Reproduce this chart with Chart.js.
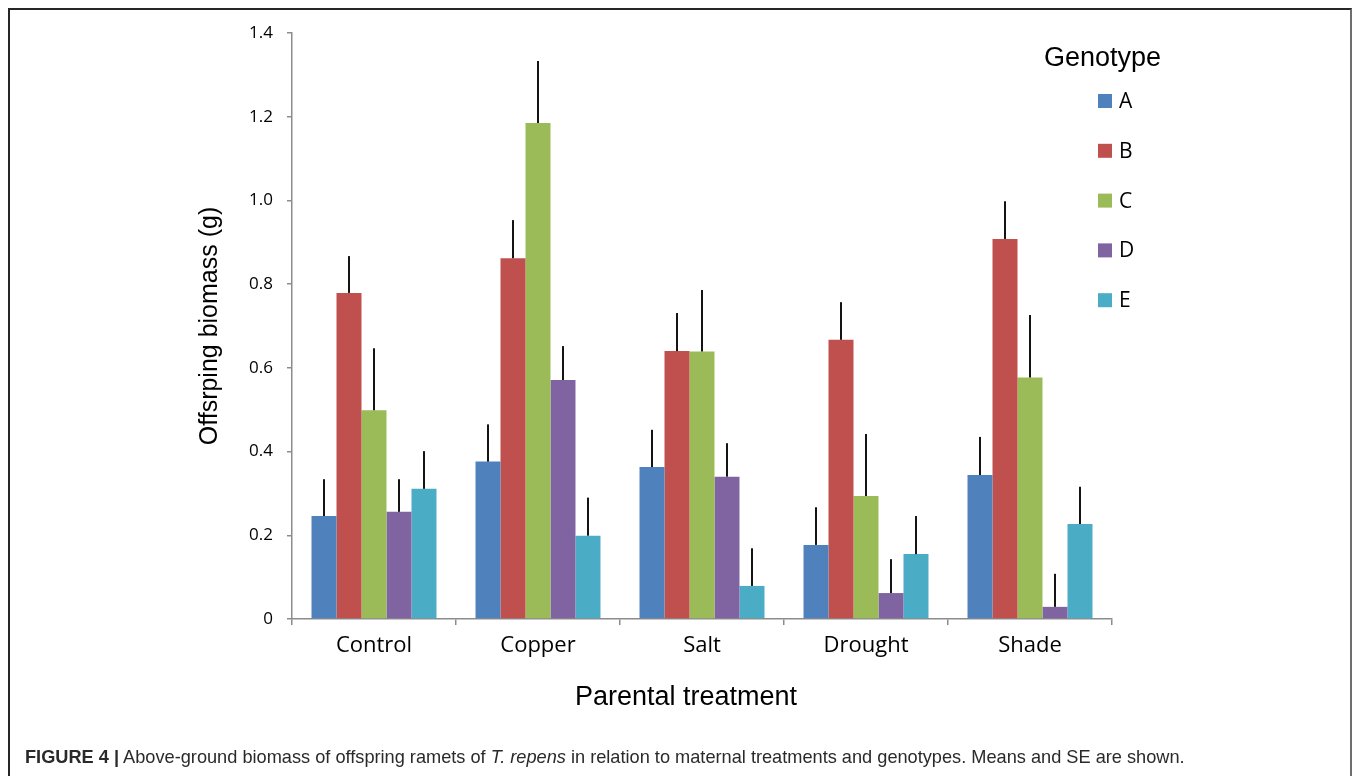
<!DOCTYPE html>
<html>
<head>
<meta charset="utf-8">
<script src="https://cdn.jsdelivr.net/npm/chart.js@4.4.0/dist/chart.umd.min.js"></script>
<style>
  html, body { margin: 0; padding: 0; background: #fff; }
  #wrap { position: relative; width: 1360px; height: 776px; overflow: hidden; }
  #frame { position: absolute; left: 8px; top: 8px; width: 1344px; height: 800px;
           border: 2px solid #262626; border-right-color: #6e6e6e; border-bottom: none; box-sizing: border-box; }
  #chart { position: absolute; left: 0; top: 0; }
  #caption { position: absolute; left: 25px; top: 747px; font-family: "Liberation Sans", Arial, sans-serif;
             font-size: 18.2px; color: #2a2a2a; white-space: nowrap; }
  #caption b { font-weight: bold; }
</style>
</head>
<body>
<div id="wrap">
  <div id="frame"></div>
  <canvas id="chart" width="1360" height="776"></canvas>
  <div id="caption"><b>FIGURE 4 |</b> Above-ground biomass of offspring ramets of <i>T. repens</i> in relation to maternal treatments and genotypes. Means and SE are shown.</div>
</div>
<script>
// Parental treatments (x categories) and genotypes (series)
const treatments = ['Control', 'Copper', 'Salt', 'Drought', 'Shade'];
const genotypes = ['A', 'B', 'C', 'D', 'E'];
const genotypeColors = ['#4F81BD', '#C0504D', '#9BBB59', '#8064A2', '#4BACC6'];

// Mean offspring biomass (g) per genotype, in treatment order
const meanA = [0.246, 0.376, 0.363, 0.177, 0.344];
const meanB = [0.779, 0.862, 0.640, 0.667, 0.908];
const meanC = [0.499, 1.185, 0.639, 0.294, 0.577];
const meanD = [0.256, 0.571, 0.340, 0.062, 0.029];
const meanE = [0.311, 0.199, 0.079, 0.155, 0.227];

// Standard errors per genotype, in treatment order
const seA = [0.088, 0.089, 0.089, 0.090, 0.091];
const seB = [0.088, 0.091, 0.091, 0.090, 0.090];
const seC = [0.148, 0.148, 0.147, 0.148, 0.149];
const seD = [0.078, 0.081, 0.080, 0.081, 0.079];
const seE = [0.090, 0.091, 0.090, 0.091, 0.089];

// Y axis range and tick step
const yMin = 0;
const yMax = 1.4;
const yStep = 0.2;

const xTitle = 'Parental treatment';
const yTitle = 'Offsrping biomass (g)';

const means = [meanA, meanB, meanC, meanD, meanE];
const errors = [seA, seB, seC, seD, seE];

const datasets = genotypes.map((g, i) => ({
  label: g,
  data: means[i],
  se: errors[i],
  backgroundColor: genotypeColors[i],
  borderWidth: 0,
  categoryPercentage: 0.762,
  barPercentage: 1.0
}));

// Upper SE whiskers drawn from each bar top
const errorBars = {
  id: 'errorBars',
  afterDatasetsDraw(chart) {
    const { ctx, scales: { y } } = chart;
    ctx.save();
    ctx.strokeStyle = '#141414';
    ctx.lineWidth = 2;
    chart.data.datasets.forEach((ds, i) => {
      const meta = chart.getDatasetMeta(i);
      meta.data.forEach((bar, j) => {
        const top = y.getPixelForValue(ds.data[j] + ds.se[j]);
        ctx.beginPath();
        ctx.moveTo(bar.x, bar.y);
        ctx.lineTo(bar.x, top);
        ctx.stroke();
      });
    });
    ctx.restore();
  }
};

// X axis title, set slightly left of the plot centre under the labels
const xAxisTitle = {
  id: 'xAxisTitle',
  afterDraw(chart) {
    const { ctx, scales: { x } } = chart;
    ctx.save();
    ctx.fillStyle = '#000';
    ctx.textAlign = 'center';
    ctx.textBaseline = 'middle';
    ctx.font = '27px "Liberation Sans", Arial, sans-serif';
    ctx.fillText(xTitle, (x.left + x.right) / 2 - 16, x.top + 79);
    ctx.restore();
  }
};

// Legend block with title on the right side of the plot
const genotypeLegend = {
  id: 'genotypeLegend',
  afterDraw(chart) {
    const { ctx } = chart;
    ctx.save();
    ctx.fillStyle = '#000';
    ctx.textBaseline = 'middle';
    ctx.textAlign = 'left';
    ctx.font = '27px "Liberation Sans", Arial, sans-serif';
    ctx.fillText('Genotype', 1044, 59);
    ctx.font = '21px "Open Sans", sans-serif';
    chart.data.datasets.forEach((ds, i) => {
      const cy = 101 + i * 49.8;
      ctx.fillStyle = ds.backgroundColor;
      ctx.fillRect(1098, cy - 7, 14, 14);
      ctx.fillStyle = '#000';
      ctx.fillText(ds.label, 1119, cy + 1);
    });
    ctx.restore();
  }
};

const axisGray = '#8c8c8c';

new Chart(document.getElementById('chart'), {
  type: 'bar',
  data: { labels: treatments, datasets },
  plugins: [errorBars, xAxisTitle, genotypeLegend],
  options: {
    responsive: false,
    maintainAspectRatio: false,
    animation: false,
    events: [],
    layout: { padding: { left: 195, right: 248, top: 33, bottom: 62 } },
    plugins: { legend: { display: false }, tooltip: { enabled: false } },
    scales: {
      x: {
        type: 'category',
        grid: { display: true, drawOnChartArea: false, offset: true, tickLength: 6, color: axisGray, lineWidth: 1.5 },
        border: { color: axisGray, width: 1.5 },
        ticks: { color: '#000', font: { family: '"Open Sans", sans-serif', size: 22 }, padding: 8, maxRotation: 0 },
        title: { display: false },
        afterFit(scale) { scale.height = 95; }
      },
      y: {
        min: yMin,
        max: yMax,
        grid: { display: true, drawOnChartArea: false, tickLength: 5, color: axisGray, lineWidth: 1.5 },
        border: { color: axisGray, width: 1.5 },
        ticks: {
          stepSize: yStep,
          color: '#000',
          font: { family: '"Open Sans", sans-serif', size: 17 },
          padding: 14,
          callback: v => (v === 0 ? '0' : Number(v).toFixed(1))
        },
        title: { display: true, text: yTitle, color: '#000',
                 font: { family: '"Liberation Sans", Arial, sans-serif', size: 25 }, padding: 0 },
        afterFit(scale) { scale.width = 97; }
      }
    }
  }
});
</script>
</body>
</html>
